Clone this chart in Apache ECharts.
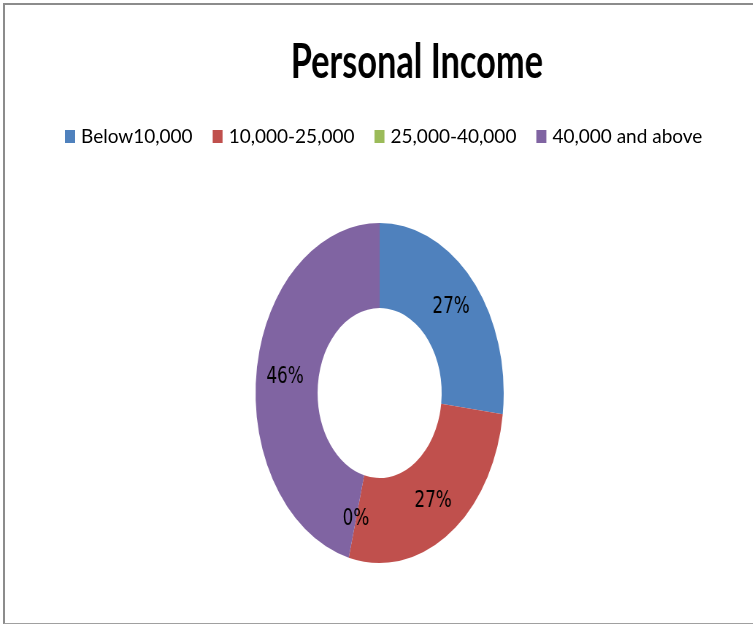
<!DOCTYPE html>
<html>
<head>
<meta charset="utf-8">
<script src="https://cdn.jsdelivr.net/npm/echarts@6/dist/echarts.min.js"></script>
<style>
	body { margin: 0; background: #fff; }
	#frame {
		position: absolute; left: 3px; top: 3px; width: 780px; height: 618px;
		border-top: 2px solid #8c8c8c; border-left: 2px solid #8c8c8c; border-bottom: 1px solid #a0a0a0;
	}
	/* the donut in the original is squeezed sideways, so it is drawn wide and scaled */
	#pie {
		position: absolute; left: 0; top: 0; width: 1032px; height: 624px;
		transform: scaleX(0.73); transform-origin: 0 0;
	}
	/* legend text is not squeezed, it gets its own unscaled layer */
	#key { position: absolute; left: 0; top: 100px; width: 753px; height: 70px; }
</style>
</head>
<body>
<div id="frame"></div>
<div id="pie"></div>
<div id="key"></div>
<script>
var categories = ['Below10,000', '10,000-25,000', '25,000-40,000', '40,000 and above'];
var shares = [27, 27, 0, 46];
var colors = ['#4F81BD', '#C0504D', '#9BBB59', '#8064A2'];

function pieData() {
	return categories.map(function (name, i) {
		return { name: name, value: shares[i] };
	});
}

function createDonut() {
	var chart = echarts.init(document.getElementById('pie'));
	var option = {
		animation: false,
		color: colors,
		title: {
			text: 'Personal Income',
			left: 566,
			top: 34,
			textAlign: 'center',
			textStyle: { fontFamily: 'Lato', fontWeight: 'bold', fontSize: 47, color: '#000' }
		},
		series: [{
			name: 'Personal Income',
			type: 'pie',
			center: [520, 393],
			radius: [85, 170],
			startAngle: 90,
			clockwise: true,
			silent: true,
			label: {
				show: true,
				position: 'inside',
				formatter: '{d}%',
				fontFamily: 'DejaVu Sans',
				fontSize: 23,
				color: '#000'
			},
			labelLine: { show: false },
			data: pieData()
		}]
	};
	chart.setOption(option);
}

function createKey() {
	var chart = echarts.init(document.getElementById('key'));
	var option = {
		animation: false,
		color: colors,
		legend: {
			data: categories,
			left: 60,
			top: 22,
			icon: 'rect',
			itemWidth: 10,
			itemHeight: 13,
			itemGap: 20,
			textStyle: { fontFamily: 'Lato', fontSize: 19, color: '#000', padding: [0, 0, 0, 1] }
		},
		series: [{
			type: 'pie',
			radius: [0, 0],
			silent: true,
			label: { show: false },
			data: pieData()
		}]
	};
	chart.setOption(option);
}

createDonut();
createKey();
</script>
</body>
</html>
